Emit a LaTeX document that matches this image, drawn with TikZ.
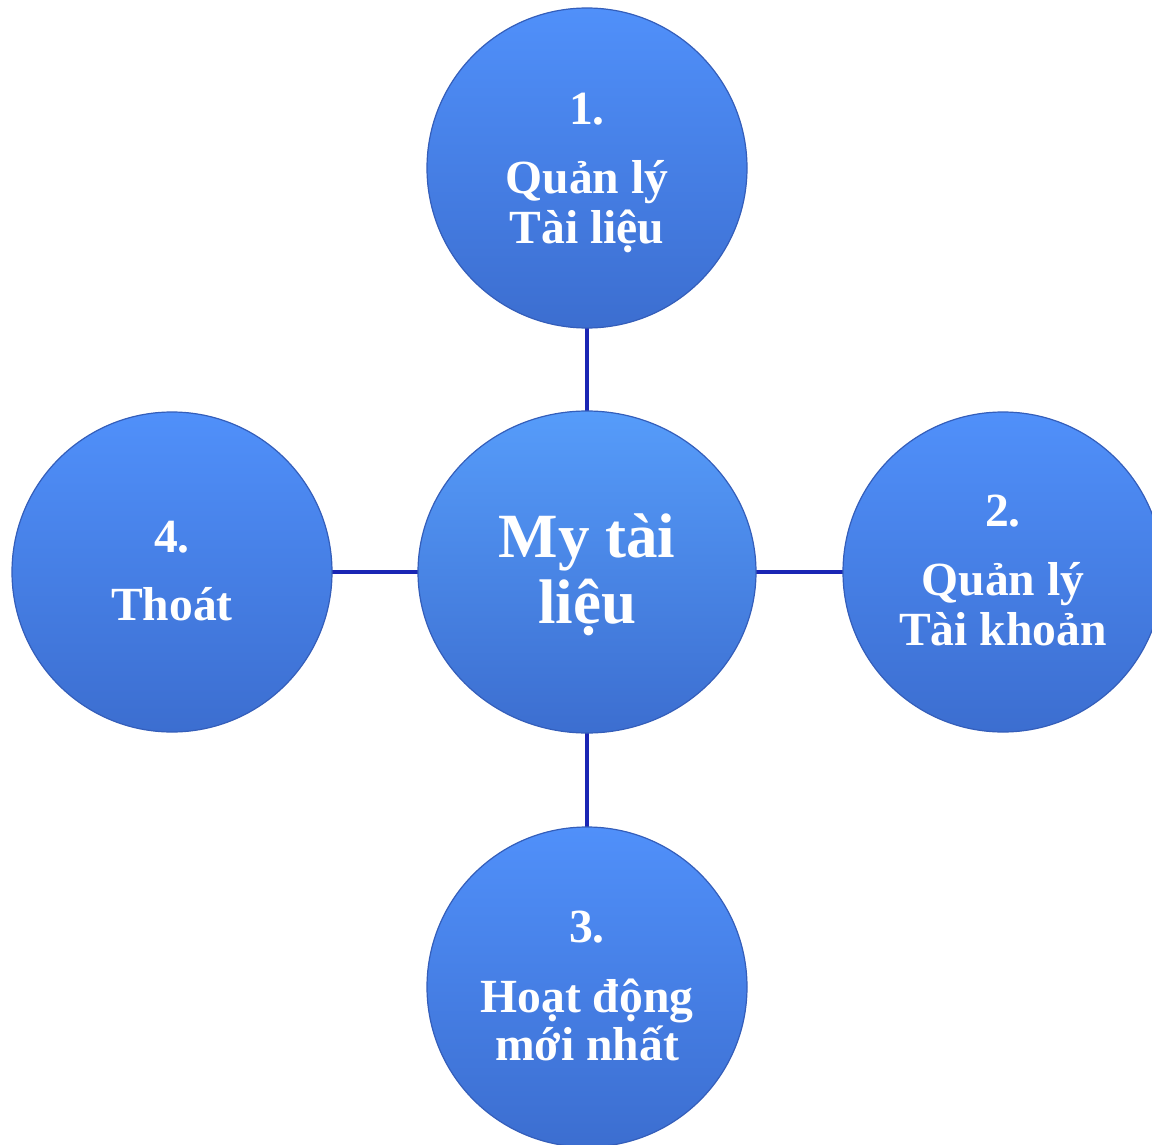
\documentclass[tikz,border=0pt]{standalone}
\usepackage{fontspec}
\setmainfont{Liberation Serif}
\usetikzlibrary{shapes.geometric,backgrounds}
\definecolor{topblue}{RGB}{80,144,250}
\definecolor{hubtop}{RGB}{86,156,250}
\definecolor{botblue}{RGB}{60,110,208}
\definecolor{rimblue}{RGB}{52,94,186}
\definecolor{linkblue}{RGB}{26,38,180}
\tikzset{
  bubble/.style={circle, minimum size=160pt, inner sep=0pt, outer sep=0pt,
    top color=topblue, bottom color=botblue, draw=rimblue, line width=0.6pt},
  hub/.style={ellipse, minimum width=169pt, minimum height=161pt, inner sep=0pt, outer sep=0pt,
    top color=hubtop, bottom color=botblue, draw=rimblue, line width=0.6pt},
  lbl/.style={text=white, font=\bfseries\fontsize{23.8}{26}\selectfont, anchor=base, inner sep=0pt},
  biglbl/.style={text=white, font=\bfseries\fontsize{31.5}{34}\selectfont, anchor=base, inner sep=0pt},
  link/.style={draw=linkblue, line width=2.4pt}
}
\begin{document}
\begin{tikzpicture}[x=0.5pt,y=-0.5pt]
\useasboundingbox (0,0) rectangle (1152,1145);
\clip (0,0) rectangle (1152,1145);
\node[hub] (c) at (587,572) {};
\node[bubble] (t) at (587,168) {};
\node[bubble] (r) at (1003,572) {};
\node[bubble] (b) at (587,987) {};
\node[bubble] (l) at (172,572) {};
\begin{scope}[on background layer]
\draw[link] (c.north) -- (t.south);
\draw[link] (c.east) -- (r.west);
\draw[link] (c.south) -- (b.north);
\draw[link] (c.west) -- (l.east);
\end{scope}
\node[biglbl] (c1) at (587,557) {My tài};
\node[biglbl] (c2) at (587,623) {liệu};
\node[lbl] (t1) at (587,125) {1.};
\node[lbl] (t2) at (587,193) {Quản lý};
\node[lbl] (t3) at (587,243) {Tài liệu};
\node[lbl] (r1) at (1003,526) {2.};
\node[lbl] (r2) at (1003,595) {Quản lý};
\node[lbl] (r3) at (1003,645) {Tài khoản};
\node[lbl] (b1) at (587,942) {3.};
\node[lbl] (b2) at (587,1012) {Hoạt động};
\node[lbl] (b3) at (587,1060) {mới nhất};
\node[lbl] (l1) at (172,552) {4.};
\node[lbl] (l2) at (172,620) {Thoát};
\end{tikzpicture}
\end{document}
